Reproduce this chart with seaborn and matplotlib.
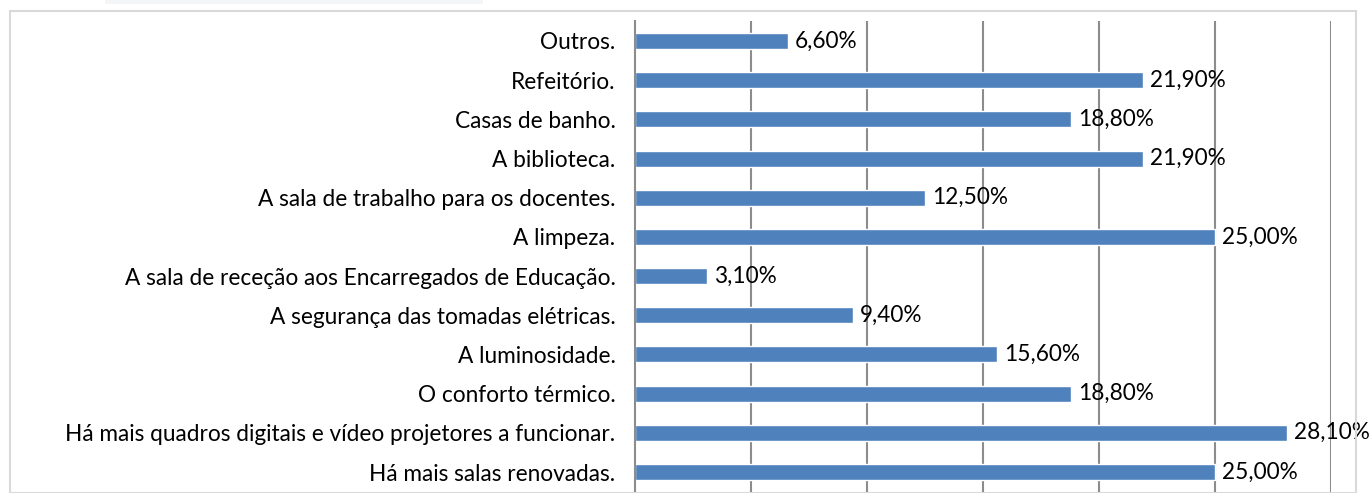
import matplotlib
matplotlib.use("Agg")
import matplotlib.pyplot as plt
import pandas as pd
import seaborn as sns
from matplotlib.patches import Rectangle

# Data (top to bottom as shown)
categories = [
    "Outros.",
    "Refeitório.",
    "Casas de banho.",
    "A biblioteca.",
    "A sala de trabalho para os docentes.",
    "A limpeza.",
    "A sala de receção aos Encarregados de Educação.",
    "A segurança das tomadas elétricas.",
    "A luminosidade.",
    "O conforto térmico.",
    "Há mais quadros digitais e vídeo projetores a funcionar.",
    "Há mais salas renovadas.",
]
values = [6.6, 21.9, 18.8, 21.9, 12.5, 25.0, 3.1, 9.4, 15.6, 18.8, 28.1, 25.0]

df = pd.DataFrame({"item": categories, "pct": values})

sns.set_style("white")
plt.rcParams["font.family"] = ["Lato", "DejaVu Sans"]

W, H = 1370, 493
fig = plt.figure(figsize=(W / 100, H / 100), dpi=100)

# outer chart frame + clipped title band
fig.patches.append(Rectangle((10 / W, 0), 1346 / W, 1 - 11 / H, transform=fig.transFigure,
                             fill=False, edgecolor="#d9d9d9", linewidth=1.5))
fig.patches.append(Rectangle((105 / W, 1 - 4 / H), 378 / W, 4 / H, transform=fig.transFigure,
                             facecolor="#f4f5f7", edgecolor="none"))

top = 1 - 21.4 / H
bottom = 1 - 491.6 / H
ax = fig.add_axes([635 / W, bottom, (1331 - 635) / W, top - bottom])

sns.barplot(data=df, y="item", x="pct", order=categories, color="#4f81bd",
            saturation=1, width=0.41, ax=ax)

ax.set_xlim(0, 30)
ax.set_ylim(len(categories) - 0.5, -0.5)
ax.set_xlabel("")
ax.set_ylabel("")
ax.set_xticks(range(5, 31, 5))
ax.set_xticklabels([])
ax.tick_params(axis="x", length=0)
ax.grid(axis="x", color="#8c8c8c", linewidth=1.5)
ax.set_axisbelow(True)

# Excel-like category ticks between bars
ax.set_yticks([i - 0.5 for i in range(len(categories) + 1)], minor=True)
ax.set_yticks(range(len(categories)))
ax.set_yticklabels(categories, fontsize=16.3, color="#000000")
ax.tick_params(axis="y", which="major", length=0, pad=14)
ax.tick_params(axis="y", which="minor", length=6, width=1.5, color="#8c8c8c", direction="out")

for s in ["top", "right", "bottom"]:
    ax.spines[s].set_visible(False)
ax.spines["left"].set_color("#8c8c8c")
ax.spines["left"].set_linewidth(1.5)

for i, v in enumerate(values):
    ax.text(v + 0.3, i, f"{v:.2f}%".replace(".", ","), va="center", ha="left",
            fontsize=16.3, color="#000000")

fig.savefig("out.png", dpi=100)
